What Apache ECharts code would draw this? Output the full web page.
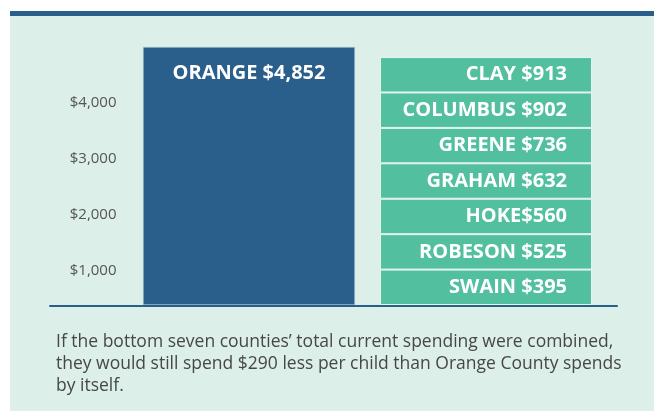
<!DOCTYPE html>
<html>
<head>
<meta charset="utf-8">
<script src="https://cdn.jsdelivr.net/npm/echarts@6/dist/echarts.min.js"></script>
<style>
  html, body { margin: 0; padding: 0; background: #fff; }
  #main { width: 654px; height: 411px; }
</style>
</head>
<body>
<div id="main"></div>
<script>
// top county
var topName = 'ORANGE';
var topValue = 4852;

// bottom seven counties, listed bottom of the stack first
var bottomNames = ['SWAIN ', 'ROBESON ', 'HOKE', 'GRAHAM ', 'GREENE ', 'COLUMBUS ', 'CLAY '];
var bottomValues = [395, 525, 560, 632, 736, 902, 913];

var yTicks = [1000, 2000, 3000, 4000];
var note = "If the bottom seven counties\u2019 total current spending were combined,\n" +
  "they would still spend $290 less per child than Orange County spends\n" +
  "by itself.";

var navy = '#2b5f8b';
var green = '#52bf9f';
var mint = '#dcefe8';

// the seven blocks are drawn the same height: the combined total shared out evenly
var combined = bottomValues.reduce(function (a, b) { return a + b; }, 0);
var block = combined / bottomValues.length;

var series = [{
    type: 'bar',
    yAxisIndex: 0,
    barWidth: 212,
    barGap: '-100%',
    data: [topValue, '-'],
    itemStyle: { color: navy, borderColor: '#a9cfd0', borderWidth: 0.6 },
    label: {
        show: true,
        position: 'insideTop',
        distance: 16,
        formatter: function () { return topName + ' $' + topValue.toLocaleString('en-US'); },
        color: '#fff',
        fontFamily: 'Open Sans',
        fontWeight: 'bold',
        fontSize: 20
    },
    silent: true
}];

bottomNames.forEach(function (name, i) {
    series.push({
        type: 'bar',
        stack: 'bottom',
        yAxisIndex: 0,
        barWidth: 212,
        data: ['-', block],
        itemStyle: { color: green, borderColor: '#e6f4ef', borderWidth: 1 },
        label: {
            show: true,
            position: 'insideRight',
            distance: 25,
            formatter: function () { return name + '$' + bottomValues[i]; },
            color: '#fff',
            fontFamily: 'Open Sans',
            fontWeight: 'bold',
            fontSize: 20
        },
        silent: true
    });
});

var myChart = echarts.init(document.getElementById('main'));
myChart.setOption({
    backgroundColor: '#fff',
    animation: false,
    graphic: [
        { type: 'rect', z: -10, shape: { x: 10, y: 11, width: 644, height: 400 }, style: { fill: mint } },
        { type: 'rect', z: -9, shape: { x: 10, y: 11, width: 644, height: 5 }, style: { fill: navy } }
    ],
    title: {
        text: note,
        left: 51,
        top: 326,
        textStyle: {
            color: '#474747',
            fontFamily: 'Open Sans',
            fontWeight: 'normal',
            fontSize: 17.5,
            lineHeight: 22
        }
    },
    grid: [
        { left: 130.5, right: 49.5, top: 47, bottom: 106 },
        { left: 50, right: 37, top: 47, bottom: 105 }
    ],
    xAxis: [
        {
            type: 'category', gridIndex: 0, data: [topName, 'BOTTOM SEVEN'],
            axisLine: { show: false }, axisTick: { show: false }, axisLabel: { show: false }
        },
        {
            type: 'category', gridIndex: 1, data: [''],
            axisLine: { show: true, lineStyle: { color: navy, width: 2 } },
            axisTick: { show: false }, axisLabel: { show: false }, z: 5
        }
    ],
    yAxis: [
        { type: 'value', gridIndex: 0, min: 0, max: topValue, show: false },
        {
            type: 'value', gridIndex: 0, min: 386, max: 5002, position: 'left',
            axisLine: { show: false }, axisTick: { show: false }, splitLine: { show: false },
            axisLabel: {
                customValues: yTicks,
                margin: 14,
                color: '#555',
                fontFamily: 'Open Sans',
                fontSize: 15,
                formatter: function (v) { return '$' + v.toLocaleString('en-US'); }
            }
        },
        { type: 'value', gridIndex: 1, show: false }
    ],
    series: series
});
</script>
</body>
</html>
